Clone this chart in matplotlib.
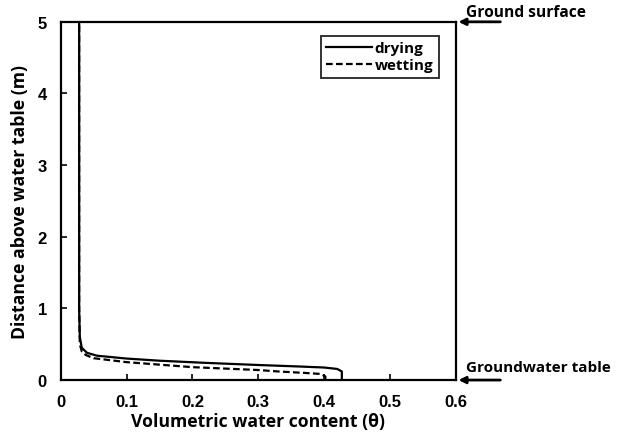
import matplotlib
matplotlib.use('Agg')
import matplotlib.pyplot as plt

plt.rcParams['font.family'] = ['Open Sans', 'DejaVu Sans']
plt.rcParams['font.weight'] = 'bold'

# drying curve (theta, height above water table)
dry_theta = [0.427, 0.427, 0.42, 0.40, 0.36, 0.30, 0.22, 0.15, 0.10, 0.055,
             0.04, 0.032, 0.029, 0.028, 0.028]
dry_z = [0.0, 0.12, 0.155, 0.175, 0.19, 0.21, 0.24, 0.27, 0.30, 0.34,
         0.38, 0.45, 0.6, 1.0, 5.0]

# wetting curve
wet_theta = [0.402, 0.402, 0.395, 0.37, 0.33, 0.30, 0.20, 0.10, 0.05, 0.038,
             0.032, 0.029, 0.028, 0.028]
wet_z = [0.0, 0.05, 0.085, 0.10, 0.12, 0.14, 0.18, 0.25, 0.305, 0.35,
         0.40, 0.5, 1.0, 5.0]

xticks = [0, 0.1, 0.2, 0.3, 0.4, 0.5, 0.6]
yticks = [0, 1, 2, 3, 4, 5]

fig = plt.figure(figsize=(6.26, 4.39), dpi=100)
ax = fig.add_axes([0.097, 0.132, 0.631, 0.816])

ax.plot(dry_theta, dry_z, color='black', lw=1.6, label='drying')
ax.plot(wet_theta, wet_z, color='black', lw=1.6, ls=(0, (3, 1.5)), label='wetting')

ax.set_xlim(0, 0.6)
ax.set_ylim(0, 5)
ax.set_xticks(xticks)
ax.set_xticklabels(['0', '0.1', '0.2', '0.3', '0.4', '0.5', '0.6'])
ax.set_yticks(yticks)
ax.tick_params(direction='in', length=4, width=1.2, labelsize=12, pad=10)
for lab in ax.get_xticklabels() + ax.get_yticklabels():
    lab.set_family(['Liberation Sans', 'DejaVu Sans'])
for s in ax.spines.values():
    s.set_linewidth(1.6)

ax.set_xlabel('Volumetric water content (\u03b8)', fontsize=12.7, fontweight='bold', labelpad=2)
ax.set_ylabel('Distance above water table (m)', fontsize=12.7, fontweight='bold', labelpad=6)

leg = ax.legend(loc='upper right', bbox_to_anchor=(0.957, 0.961), fontsize=11,
                frameon=True, fancybox=False, handlelength=3.0, handletextpad=0.2,
                borderpad=0.35, labelspacing=0.2, borderaxespad=0)
leg.get_frame().set_edgecolor('black')
leg.get_frame().set_linewidth(1.4)

arrow = dict(arrowstyle='-|>', color='black', lw=2, mutation_scale=10)
ax.annotate('', xy=(0.6, 5), xytext=(0.672, 5), arrowprops=arrow, annotation_clip=False)
ax.annotate('', xy=(0.6, 0), xytext=(0.672, 0), arrowprops=arrow, annotation_clip=False)
ax.text(0.616, 5.14, 'Ground surface', fontsize=11.2, fontweight='bold',
        ha='left', va='center', clip_on=False)
ax.text(0.616, 0.18, 'Groundwater table', fontsize=11, fontweight='bold',
        ha='left', va='center', clip_on=False)

fig.savefig('out.png', dpi=100)
